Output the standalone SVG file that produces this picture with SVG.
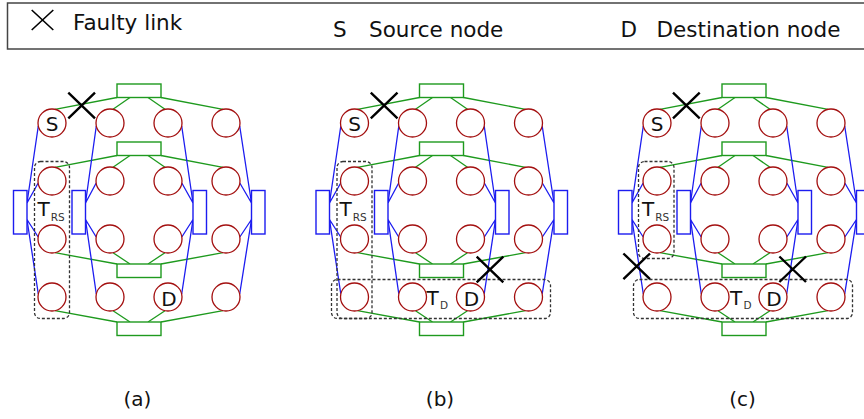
<svg xmlns="http://www.w3.org/2000/svg" width="864" height="419" viewBox="0 0 864 419">
  <style>
    text { font-family: "DejaVu Sans", "Liberation Sans", sans-serif; fill: #111; }
    .node { fill: #fff; stroke: #a30f0f; stroke-width: 1.3; }
    .gbus { fill: #fff; stroke: #1e9a1e; stroke-width: 1.4; }
    .bbus { fill: #fff; stroke: #1c1cf0; stroke-width: 1.4; }
    .gl { fill: none; stroke: #1e9a1e; stroke-width: 1.3; }
    .bl { fill: none; stroke: #1c1cf0; stroke-width: 1.3; }
    .fault { fill: none; stroke: #000; stroke-width: 2.4; }
    .group { fill: none; stroke: #333; stroke-width: 1.3; stroke-dasharray: 3 2; }
    .lbl { font-size: 20px; text-anchor: middle; }
    .sub { font-size: 10.5px; fill: #333; }
    .leg { font-size: 21.5px; }
  </style>

  <!-- Legend -->
  <g id="legend">
    <rect x="7.5" y="3" width="870" height="46" fill="#fff" stroke="#444" stroke-width="1.5"/>
    <path d="M31.7,10 L53.3,30 M31.7,30 L53.3,10" fill="none" stroke="#000" stroke-width="1.6"/>
    <text class="leg" x="73" y="30">Faulty link</text>
    <text class="leg" x="333" y="36.7">S</text>
    <text class="leg" x="369" y="36.7">Source node</text>
    <text class="leg" x="620.5" y="36.7">D</text>
    <text class="leg" x="656.5" y="36.7">Destination node</text>
  </g>

  <defs>
    <!-- Wiring shared by every copy of the network -->
    <g id="wires">
      <path class="gl" d="M117,97.5 L55,109.3 M130,97.5 L113,109.3 M148,97.5 L165,109.3 M161,97.5 L223,109.3
                          M117,155.5 L55,167.3 M130,155.5 L113,167.3 M148,155.5 L165,167.3 M161,155.5 L223,167.3
                          M117,264 L55,252.7 M130,264 L113,252.7 M148,264 L165,252.7 M161,264 L223,252.7
                          M117,322 L55,310.7 M130,322 L113,310.7 M148,322 L165,310.7 M161,322 L223,310.7"/>
      <path class="bl" d="M38.3,126 L27,203 M38.2,183 L27,203 M38.2,237 L27,219.5 M38.3,294 L27,219.5
                          M96.3,126 L85.5,203 M96.2,183 L85.5,203 M96.2,237 L85.5,219.5 M96.3,294 L85.5,219.5
                          M181.7,126 L193,203 M181.8,183 L193,203 M181.8,237 L193,219.5 M181.7,294 L193,219.5
                          M239.7,126 L251.5,203 M239.8,183 L251.5,203 M239.8,237 L251.5,219.5 M239.7,294 L251.5,219.5"/>
    </g>
  </defs>

  <!-- ===== Network (a) ===== -->
  <g id="net-a">
    <g id="a-connectors"><use href="#wires"/></g>
    <g id="a-bus-g1"><rect class="gbus" x="117" y="84" width="44" height="13.5"/></g>
    <g id="a-bus-g2"><rect class="gbus" x="117" y="142" width="44" height="13.5"/></g>
    <g id="a-bus-g3"><rect class="gbus" x="117" y="264" width="44" height="13.5"/></g>
    <g id="a-bus-g4"><rect class="gbus" x="117" y="322" width="44" height="13.5"/></g>
    <g id="a-bus-b1"><rect class="bbus" x="13.5" y="190.5" width="13.5" height="43.5"/></g>
    <g id="a-bus-b2"><rect class="bbus" x="72" y="190.5" width="13.5" height="43.5"/></g>
    <g id="a-bus-b3"><rect class="bbus" x="193" y="190.5" width="13.5" height="43.5"/></g>
    <g id="a-bus-b4"><rect class="bbus" x="251.5" y="190.5" width="13.5" height="43.5"/></g>
    <g id="a-n11"><circle class="node" cx="52" cy="123" r="14"/><text class="lbl" x="52" y="130.7">S</text></g>
    <g id="a-n12"><circle class="node" cx="110" cy="123" r="14"/></g>
    <g id="a-n13"><circle class="node" cx="168" cy="123" r="14"/></g>
    <g id="a-n14"><circle class="node" cx="226" cy="123" r="14"/></g>
    <g id="a-n21"><circle class="node" cx="52" cy="181" r="14"/></g>
    <g id="a-n22"><circle class="node" cx="110" cy="181" r="14"/></g>
    <g id="a-n23"><circle class="node" cx="168" cy="181" r="14"/></g>
    <g id="a-n24"><circle class="node" cx="226" cy="181" r="14"/></g>
    <g id="a-n31"><circle class="node" cx="52" cy="239" r="14"/></g>
    <g id="a-n32"><circle class="node" cx="110" cy="239" r="14"/></g>
    <g id="a-n33"><circle class="node" cx="168" cy="239" r="14"/></g>
    <g id="a-n34"><circle class="node" cx="226" cy="239" r="14"/></g>
    <g id="a-n41"><circle class="node" cx="52" cy="297" r="14"/></g>
    <g id="a-n42"><circle class="node" cx="110" cy="297" r="14"/></g>
    <g id="a-n43"><circle class="node" cx="168" cy="297" r="14"/><text class="lbl" x="169" y="305.5">D</text></g>
    <g id="a-n44"><circle class="node" cx="226" cy="297" r="14"/></g>
    <g id="a-trs"><rect class="group" x="34.5" y="161.5" width="35" height="157" rx="6"/>
      <text x="37.5" y="215.7" font-size="20">T<tspan class="sub" dx="1" dy="5">RS</tspan></text></g>
    <g id="a-faults"><path class="fault" d="M68.3,92.7 L95,118.3 M68.3,118.3 L95,92.7"/></g>
    <text x="137.5" y="406" font-size="20" text-anchor="middle">(a)</text>
  </g>

  <!-- ===== Network (b) ===== -->
  <g id="net-b" transform="translate(302.5,0)">
    <g id="b-connectors"><use href="#wires"/></g>
    <g id="b-bus-g1"><rect class="gbus" x="117" y="84" width="44" height="13.5"/></g>
    <g id="b-bus-g2"><rect class="gbus" x="117" y="142" width="44" height="13.5"/></g>
    <g id="b-bus-g3"><rect class="gbus" x="117" y="264" width="44" height="13.5"/></g>
    <g id="b-bus-g4"><rect class="gbus" x="117" y="322" width="44" height="13.5"/></g>
    <g id="b-bus-b1"><rect class="bbus" x="13.5" y="190.5" width="13.5" height="43.5"/></g>
    <g id="b-bus-b2"><rect class="bbus" x="72" y="190.5" width="13.5" height="43.5"/></g>
    <g id="b-bus-b3"><rect class="bbus" x="193" y="190.5" width="13.5" height="43.5"/></g>
    <g id="b-bus-b4"><rect class="bbus" x="251.5" y="190.5" width="13.5" height="43.5"/></g>
    <g id="b-n11"><circle class="node" cx="52" cy="123" r="14"/><text class="lbl" x="52" y="130.7">S</text></g>
    <g id="b-n12"><circle class="node" cx="110" cy="123" r="14"/></g>
    <g id="b-n13"><circle class="node" cx="168" cy="123" r="14"/></g>
    <g id="b-n14"><circle class="node" cx="226" cy="123" r="14"/></g>
    <g id="b-n21"><circle class="node" cx="52" cy="181" r="14"/></g>
    <g id="b-n22"><circle class="node" cx="110" cy="181" r="14"/></g>
    <g id="b-n23"><circle class="node" cx="168" cy="181" r="14"/></g>
    <g id="b-n24"><circle class="node" cx="226" cy="181" r="14"/></g>
    <g id="b-n31"><circle class="node" cx="52" cy="239" r="14"/></g>
    <g id="b-n32"><circle class="node" cx="110" cy="239" r="14"/></g>
    <g id="b-n33"><circle class="node" cx="168" cy="239" r="14"/></g>
    <g id="b-n34"><circle class="node" cx="226" cy="239" r="14"/></g>
    <g id="b-n41"><circle class="node" cx="52" cy="297" r="14"/></g>
    <g id="b-n42"><circle class="node" cx="110" cy="297" r="14"/></g>
    <g id="b-n43"><circle class="node" cx="168" cy="297" r="14"/><text class="lbl" x="169" y="305.5">D</text></g>
    <g id="b-n44"><circle class="node" cx="226" cy="297" r="14"/></g>
    <g id="b-trs"><rect class="group" x="34.5" y="161.5" width="35" height="157" rx="6"/>
      <text x="37" y="215.7" font-size="20">T<tspan class="sub" dx="1" dy="5">RS</tspan></text></g>
    <g id="b-td"><rect class="group" x="29" y="279.5" width="219" height="39" rx="6"/>
      <text x="124" y="305" font-size="20">T<tspan class="sub" dx="1.3" dy="3.5">D</tspan></text></g>
    <g id="b-faults"><path class="fault" d="M68.3,92.7 L95,118.3 M68.3,118.3 L95,92.7 M174.2,256.7 L200.8,282.3 M174.2,282.3 L200.8,256.7"/></g>
    <text x="137.5" y="406" font-size="20" text-anchor="middle">(b)</text>
  </g>

  <!-- ===== Network (c) ===== -->
  <g id="net-c" transform="translate(605,0)">
    <g id="c-connectors"><use href="#wires"/></g>
    <g id="c-bus-g1"><rect class="gbus" x="117" y="84" width="44" height="13.5"/></g>
    <g id="c-bus-g2"><rect class="gbus" x="117" y="142" width="44" height="13.5"/></g>
    <g id="c-bus-g3"><rect class="gbus" x="117" y="264" width="44" height="13.5"/></g>
    <g id="c-bus-g4"><rect class="gbus" x="117" y="322" width="44" height="13.5"/></g>
    <g id="c-bus-b1"><rect class="bbus" x="13.5" y="190.5" width="13.5" height="43.5"/></g>
    <g id="c-bus-b2"><rect class="bbus" x="72" y="190.5" width="13.5" height="43.5"/></g>
    <g id="c-bus-b3"><rect class="bbus" x="193" y="190.5" width="13.5" height="43.5"/></g>
    <g id="c-bus-b4"><rect class="bbus" x="251.5" y="190.5" width="13.5" height="43.5"/></g>
    <g id="c-n11"><circle class="node" cx="52" cy="123" r="14"/><text class="lbl" x="52" y="130.7">S</text></g>
    <g id="c-n12"><circle class="node" cx="110" cy="123" r="14"/></g>
    <g id="c-n13"><circle class="node" cx="168" cy="123" r="14"/></g>
    <g id="c-n14"><circle class="node" cx="226" cy="123" r="14"/></g>
    <g id="c-n21"><circle class="node" cx="52" cy="181" r="14"/></g>
    <g id="c-n22"><circle class="node" cx="110" cy="181" r="14"/></g>
    <g id="c-n23"><circle class="node" cx="168" cy="181" r="14"/></g>
    <g id="c-n24"><circle class="node" cx="226" cy="181" r="14"/></g>
    <g id="c-n31"><circle class="node" cx="52" cy="239" r="14"/></g>
    <g id="c-n32"><circle class="node" cx="110" cy="239" r="14"/></g>
    <g id="c-n33"><circle class="node" cx="168" cy="239" r="14"/></g>
    <g id="c-n34"><circle class="node" cx="226" cy="239" r="14"/></g>
    <g id="c-n41"><circle class="node" cx="52" cy="297" r="14"/></g>
    <g id="c-n42"><circle class="node" cx="110" cy="297" r="14"/></g>
    <g id="c-n43"><circle class="node" cx="168" cy="297" r="14"/><text class="lbl" x="169" y="305.5">D</text></g>
    <g id="c-n44"><circle class="node" cx="226" cy="297" r="14"/></g>
    <g id="c-trs"><rect class="group" x="33.5" y="161.5" width="35.5" height="97" rx="6"/>
      <text x="37" y="215.7" font-size="20">T<tspan class="sub" dx="1" dy="5">RS</tspan></text></g>
    <g id="c-td"><rect class="group" x="28.5" y="279.5" width="219" height="39" rx="6"/>
      <text x="125" y="305" font-size="20">T<tspan class="sub" dx="1.3" dy="3.5">D</tspan></text></g>
    <g id="c-faults"><path class="fault" d="M68,92.7 L94.7,118.3 M68,118.3 L94.7,92.7 M18.4,253.5 L45,279.1 M18.4,279.1 L45,253.5 M174.4,256.5 L201,282 M174.4,282 L201,256.5"/></g>
    <text x="137.5" y="406" font-size="20" text-anchor="middle">(c)</text>
  </g>
</svg>
